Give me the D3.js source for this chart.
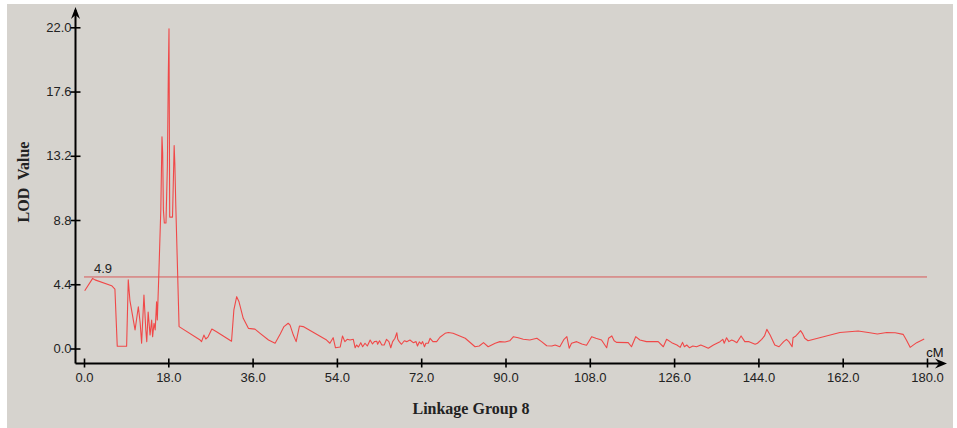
<!DOCTYPE html>
<html>
<head>
<meta charset="utf-8">
<script src="https://cdn.jsdelivr.net/npm/d3@7"></script>
<style>
  html, body { margin: 0; padding: 0; background: #ffffff; }
  svg { display: block; }
</style>
</head>
<body>
<svg id="chart" width="957" height="428"></svg>
<script>
// ---- data ----
const positions = [
  0.15, 1.85, 2.35, 5.9, 6.6, 7.1, 9.1, 9.45, 9.8, 10.9, 11.6, 12.0, 12.3, 12.8, 13.2, 13.4, 13.7, 14.1, 14.45, 14.65,
  14.95, 15.2, 15.5, 15.65, 15.95, 16.4, 16.65, 16.8, 16.95, 17.15, 17.5, 17.8, 18.0, 18.15, 18.3, 18.9, 19.25, 19.4, 19.6, 20.3,
  24.8, 25.1, 25.6, 26.0, 26.5, 27.3, 28.3, 31.5, 32.0, 32.6, 33.1, 34.0, 35.1, 36.5, 37.6, 39.4, 40.8, 41.9, 42.7, 43.6,
  44.0, 44.7, 45.3, 46.0, 46.8, 51.8, 52.5, 53.2, 53.7, 54.7, 55.2, 55.7, 56.2, 56.8, 57.5, 57.9, 58.2, 58.6, 59.1, 59.5,
  60.0, 60.5, 61.1, 61.6, 62.0, 62.5, 62.7, 63.1, 63.6, 64.1, 64.6, 65.1, 65.5, 65.9, 66.4, 66.8, 67.0, 67.3, 67.8, 68.4,
  68.9, 69.6, 70.3, 70.9, 71.2, 71.6, 72.0, 72.3, 72.7, 73.0, 73.5, 73.9, 74.5, 75.3, 76.0, 77.1, 77.8, 78.8, 81.4, 83.5,
  84.4, 85.3, 86.3, 87.8, 88.8, 89.9, 90.9, 91.7, 92.7, 93.8, 95.2, 96.7, 97.7, 98.8, 99.9, 100.6, 101.6, 102.5, 103.1, 103.6,
  104.1, 105.2, 106.3, 107.3, 108.4, 109.3, 110.5, 111.6, 112.0, 112.7, 113.2, 113.7, 116.2, 116.9, 117.8, 118.7, 120.1, 122.6, 123.7, 124.4,
  125.5, 126.6, 127.3, 127.8, 128.2, 128.7, 129.3, 130.0, 130.8, 131.7, 132.6, 133.3, 134.4, 135.8, 136.4, 136.7, 137.2, 137.7, 138.3, 138.8,
  139.4, 140.3, 141.1, 142.0, 143.3, 143.8, 144.7, 145.3, 145.8, 146.5, 147.5, 148.4, 149.4, 150.0, 150.5, 151.2, 151.4, 152.0, 152.5, 153.0,
  153.4, 153.9, 154.6, 157.9, 161.4, 165.3, 167.8, 169.4, 171.4, 173.2, 174.9, 175.6, 176.4, 177.8, 179.4
];
const lodValues = [
  3.96, 4.8, 4.7, 4.3, 4.07, 0.15, 0.15, 4.7, 3.3, 1.27, 2.86, 1.73, 0.36, 3.66, 1.27, 0.47, 2.5, 0.92, 1.95, 0.8,
  1.73, 1.27, 3.2, 1.95, 4.8, 9.5, 14.5, 13.4, 9.5, 8.6, 8.6, 12.45, 18.7, 21.9, 9.0, 9.0, 13.9, 12.6, 9.8, 1.5,
  0.58, 0.47, 0.92, 0.65, 0.8, 1.33, 1.15, 0.5, 2.64, 3.55, 3.2, 2.07, 1.38, 1.33, 1.04, 0.58, 0.36, 1.0, 1.5, 1.73,
  1.6, 0.92, 0.47, 1.54, 1.5, 0.58, 0.36, 0.74, 0.05, 0.1, 0.86, 0.47, 0.63, 0.58, 0.63, 0.05, 0.24, 0.1, 0.4, 0.12,
  0.36, 0.17, 0.58, 0.31, 0.47, 0.5, 0.29, 0.53, 0.24, 0.24, 0.63, 0.47, 0.05, 0.47, 0.7, 1.08, 0.63, 0.47, 0.29, 0.53,
  0.47, 0.58, 0.4, 0.47, 0.17, 0.45, 0.31, 0.47, 0.12, 0.36, 0.36, 0.7, 0.47, 0.47, 0.77, 1.04, 1.1, 1.04, 0.7, 0.12,
  0.17, 0.4, 0.12, 0.36, 0.47, 0.45, 0.53, 0.81, 0.74, 0.63, 0.58, 0.7, 0.47, 0.19, 0.17, 0.24, 0.12, 0.63, 0.81, 0.02,
  0.36, 0.47, 0.31, 0.22, 0.81, 0.7, 0.58, 0.05, 0.7, 0.86, 0.53, 0.42, 0.4, 0.12, 0.81, 0.58, 0.47, 0.47, 0.12, 0.63,
  0.4, 0.24, 0.08, 0.42, 0.12, 0.24, 0.05, 0.17, 0.12, 0.24, 0.12, 0.02, 0.24, 0.47, 0.63, 0.36, 0.74, 0.47, 0.58, 0.51,
  0.4, 0.86, 0.47, 0.47, 0.29, 0.36, 0.63, 0.86, 1.31, 0.92, 0.24, 0.12, 0.47, 0.63, 0.47, 0.12, 0.74, 0.86, 1.04, 1.22,
  1.04, 0.7, 0.53, 0.81, 1.1, 1.2, 1.08, 0.99, 1.1, 1.08, 0.97, 0.58, 0.08, 0.4, 0.65
];
const threshold = 4.9;
const xTicks = [0, 18, 36, 54, 72, 90, 108, 126, 144, 162, 180];
const yTicks = [0, 4.4, 8.8, 13.2, 17.6, 22.0];
const xTitle = "Linkage Group 8";
const yTitle = "LOD  Value";
const xUnit = "cM";

// ---- drawing ----
const svg = d3.select("#chart");
const bg = "#d6d3ce";
svg.append("rect").attr("x", 7).attr("y", 4).attr("width", 946).attr("height", 424).attr("fill", bg);

const x = d3.scaleLinear().domain([0, 180]).range([84, 927]);
const y = d3.scaleLinear().domain([0, 22]).range([348.5, 27.3]);
const axisX = 75.5, axisY = 363.5;
const tickFont = "'Liberation Sans', Arial, sans-serif";
const titleFont = "'Liberation Serif', 'Times New Roman', serif";

// y axis
svg.append("line").attr("x1", axisX).attr("x2", axisX).attr("y1", axisY).attr("y2", 10)
  .attr("stroke", "#000").attr("stroke-width", 2);
svg.append("path").attr("d", `M${axisX},7 L${axisX - 4.5},19 L${axisX},15 L${axisX + 4.5},19 Z`).attr("fill", "#000");
const yAxis = d3.axisLeft(y).tickValues(yTicks).tickFormat(d3.format(".1f")).tickSize(0).tickPadding(0);
const gy = svg.append("g").attr("transform", `translate(${axisX},0)`).call(yAxis);
gy.select(".domain").remove();
gy.selectAll(".tick text").attr("x", -4).attr("font-family", tickFont).attr("font-size", 13).attr("fill", "#222");
gy.selectAll(".tick").append("line").attr("x1", -5).attr("x2", 5).attr("stroke", "#000").attr("stroke-width", 1.6);

// x axis
svg.append("line").attr("x1", axisX).attr("x2", 943).attr("y1", axisY).attr("y2", axisY)
  .attr("stroke", "#000").attr("stroke-width", 2);
svg.append("path").attr("d", `M947,${axisY} L935,${axisY - 5} L939,${axisY} L935,${axisY + 5} Z`).attr("fill", "#000");
const xAxis = d3.axisBottom(x).tickValues(xTicks).tickFormat(d3.format(".1f")).tickSize(0).tickPadding(0);
const gx = svg.append("g").attr("transform", `translate(0,${axisY})`).call(xAxis);
gx.select(".domain").remove();
gx.selectAll(".tick text").attr("y", 9).attr("font-family", tickFont).attr("font-size", 13).attr("fill", "#222");
gx.selectAll(".tick").append("line").attr("y1", -5).attr("y2", 4).attr("stroke", "#000").attr("stroke-width", 1.6);

svg.append("text").attr("x", 935).attr("y", 357).attr("text-anchor", "middle")
  .attr("font-family", tickFont).attr("font-size", 13).attr("fill", "#111").text(xUnit);

// titles
svg.append("text").attr("x", 471).attr("y", 414).attr("text-anchor", "middle")
  .attr("font-family", titleFont).attr("font-weight", "bold")
  .attr("font-size", 16).attr("fill", "#222").text(xTitle);
svg.append("text").attr("transform", "translate(29,182) rotate(-90)").attr("text-anchor", "middle")
  .style("white-space", "pre")
  .attr("font-family", titleFont).attr("font-weight", "bold")
  .attr("font-size", 16).attr("fill", "#222").text(yTitle);

// threshold
svg.append("line").attr("x1", x(0)).attr("x2", x(180)).attr("y1", y(threshold)).attr("y2", y(threshold))
  .attr("stroke", "#d85858").attr("stroke-width", 1);
svg.append("text").attr("x", x(0) + 10).attr("y", y(threshold) - 4)
  .attr("font-family", tickFont).attr("font-size", 13).attr("fill", "#222").text(threshold.toFixed(1));

// LOD curve
const pts = positions.map((p, i) => [p, lodValues[i]]);
svg.append("path").datum(pts)
  .attr("fill", "none").attr("stroke", "#f04848").attr("stroke-width", 1.1).attr("stroke-linejoin", "round")
  .attr("d", d3.line().x(d => x(d[0])).y(d => y(d[1])));
</script>
</body>
</html>
